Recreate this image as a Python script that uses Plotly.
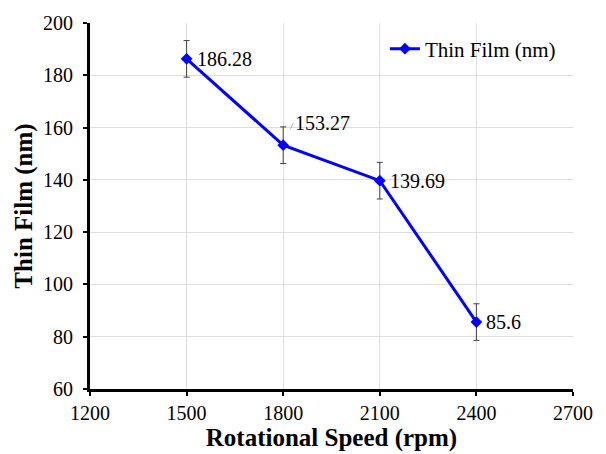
import plotly.graph_objects as go

speeds = [1500, 1800, 2100, 2400]
thickness = [186.28, 153.27, 139.69, 85.6]
errors = [7, 7, 7, 7]
labels = ["186.28", "153.27", "139.69", "85.6"]
series_name = "Thin Film (nm)"
x_ticks = [1200, 1500, 1800, 2100, 2400, 2700]
y_ticks = [60, 80, 100, 120, 140, 160, 180, 200]

font_family = "Liberation Serif"

fig = go.Figure()
fig.add_trace(go.Scatter(
    x=speeds, y=thickness, mode="lines+markers",
    name=series_name,
    line=dict(color="#0000FF", width=3),
    marker=dict(symbol="diamond", size=9, color="#0000FF"),
    error_y=dict(type="data", array=errors, visible=True, color="#404040", thickness=1, width=3),
))

for i, (x, y, t) in enumerate(zip(speeds, thickness, labels)):
    if i == 1:
        fig.add_annotation(x=x, y=y, text=t, showarrow=True, arrowhead=0, arrowwidth=0.8,
                           arrowcolor="#a0a0a0", ax=10, ay=-22, standoff=17,
                           xanchor="left", yanchor="middle",
                           font=dict(family=font_family, size=20, color="black"))
    else:
        fig.add_annotation(x=x, y=y, text=t, showarrow=False, xshift=8,
                           xanchor="left", yanchor="middle",
                           font=dict(family=font_family, size=20, color="black"))

fig.update_layout(
    width=606, height=454,
    margin=dict(l=90, r=33, t=21, b=64),
    paper_bgcolor="white", plot_bgcolor="white",
    font=dict(family=font_family, size=20, color="black"),
    showlegend=True,
    legend=dict(x=0.975, y=0.985, xanchor="right", yanchor="top",
                bgcolor="rgba(0,0,0,0)", font=dict(size=21, family=font_family),
                itemwidth=30, tracegroupgap=0),
    xaxis=dict(range=[1200, 2700], tickvals=x_ticks,
               showgrid=True, gridcolor="#dedede", gridwidth=1,
               showline=True, linecolor="black", linewidth=3,
               ticks="outside", ticklen=4, tickwidth=2, tickcolor="black",
               tickfont=dict(size=20, family=font_family),
               title=dict(text="<b>Rotational Speed (rpm)</b>", font=dict(size=25, family=font_family), standoff=0),
               zeroline=False),
    yaxis=dict(range=[60, 200], tickvals=y_ticks,
               showgrid=True, gridcolor="#dedede", gridwidth=1,
               showline=True, linecolor="black", linewidth=3,
               ticks="outside", ticklen=4, tickwidth=2, tickcolor="black",
               ticklabelstandoff=6,
               tickfont=dict(size=20, family=font_family),
               title=dict(text="<b>Thin Film (nm)</b>", font=dict(size=25, family=font_family), standoff=4),
               zeroline=False),
)

fig.write_html("out.html")
